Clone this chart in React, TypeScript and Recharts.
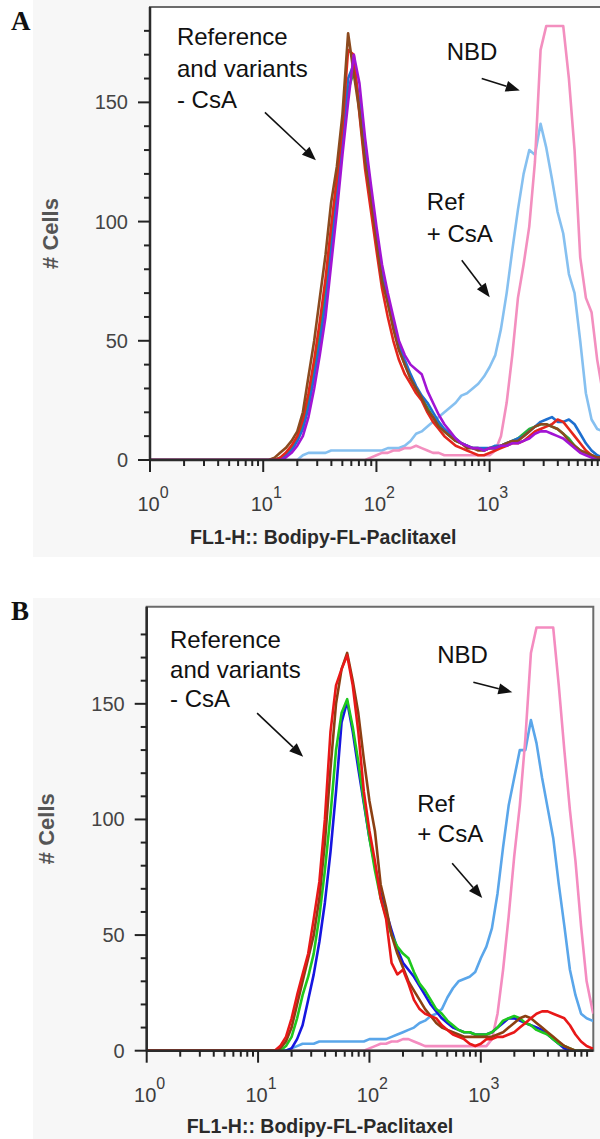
import React from 'react';
import {
  LineChart,
  Line,
  XAxis,
  YAxis,
  CartesianGrid,
  ReferenceArea,
  ReferenceLine,
  ReferenceDot,
  Label
} from 'recharts';

const FONT = '"Liberation Sans", Arial, sans-serif';
const X_MAX = 10233;

// FL1-H channels, 20 bins per decade
const channels = [
  1,
  10, 11.2, 12.6, 14.1, 15.8, 17.8, 20, 22.4, 25.1, 28.2, 31.6, 35.5, 39.8, 44.7, 50.1, 56.2, 63.1, 70.8, 79.4, 89.1,
  100, 112, 126, 141, 158, 178, 200, 224, 251, 282, 316, 355, 398, 447, 501, 562, 631, 708, 794, 891,
  1000, 1122, 1259, 1413, 1585, 1778, 1995, 2239, 2512, 2818, 3162, 3548, 3981, 4467, 5012, 5623, 6310, 7079, 7943, 8913,
  10000, 10233
];

const xTicks = [
  1, 2, 3, 4, 5, 6, 7, 8, 9,
  10, 20, 30, 40, 50, 60, 70, 80, 90,
  100, 200, 300, 400, 500, 600, 700, 800, 900,
  1000, 2000, 3000, 4000, 5000, 6000, 7000, 8000, 9000
];
const yTicks = [0, 10, 20, 30, 40, 50, 60, 70, 80, 90, 100, 110, 120, 130, 140, 150, 160, 170, 180];

// panel A counts
const aBrown = [0,
  0, 0, 1, 3, 5, 8, 12, 20, 35, 50, 68, 86, 108, 123, 145, 179, 162, 146, 125, 110,
  92, 75, 66, 55, 46, 40, 34, 30, 26, 21, 18, 14, 12, 10, 8, 7, 5, 5, 4, 4,
  5, 5, 6, 7, 8, 8, 10, 12, 14, 15, 15, 14, 13, 11, 8, 6, 4, 3, 2, 1,
  1, 1];
const aRed = [0,
  0, 0, 0, 1, 3, 6, 10, 17, 28, 42, 58, 76, 98, 118, 140, 172, 170, 145, 122, 105,
  88, 72, 60, 50, 42, 36, 32, 28, 25, 20, 16, 13, 10, 8, 6, 5, 4, 3, 2, 2,
  3, 4, 5, 6, 7, 7, 8, 10, 12, 13, 14, 15, 17, 16, 13, 10, 7, 4, 2, 1,
  1, 1];
const aGreen = [0,
  0, 0, 0, 1, 2, 5, 9, 15, 25, 38, 52, 70, 92, 115, 138, 155, 163, 150, 128, 110,
  93, 78, 66, 56, 47, 40, 35, 30, 26, 22, 18, 15, 12, 10, 8, 7, 6, 5, 5, 4,
  5, 5, 6, 7, 8, 9, 11, 13, 14, 15, 15, 14, 13, 11, 9, 6, 4, 3, 2, 1,
  1, 1];
const aBlue = [0,
  0, 0, 0, 0, 2, 4, 8, 13, 22, 35, 49, 66, 88, 110, 135, 160, 166, 150, 130, 112,
  95, 80, 68, 58, 49, 42, 36, 31, 27, 24, 20, 16, 13, 11, 9, 7, 6, 5, 5, 5,
  5, 6, 6, 7, 8, 9, 10, 12, 14, 16, 17, 18, 16, 16, 17, 15, 11, 7, 4, 2,
  1, 1];
const aPurple = [0,
  0, 0, 0, 0, 1, 3, 6, 10, 18, 30, 44, 60, 82, 104, 128, 150, 170, 158, 135, 116,
  98, 82, 70, 60, 50, 44, 40, 38, 36, 29, 24, 19, 15, 12, 9, 7, 6, 5, 5, 4,
  5, 5, 6, 6, 7, 7, 8, 9, 11, 12, 12, 11, 10, 9, 7, 5, 3, 2, 1, 0,
  0, 0];
const aRefCsA = [0,
  0, 0, 0, 0, 0, 0, 0, 2, 3, 3, 3, 3, 4, 4, 4, 4, 4, 4, 4, 4,
  4, 4, 5, 5, 5, 6, 8, 11, 12, 14, 16, 18, 20, 22, 24, 27, 28, 30, 32, 35,
  39, 44, 55, 70, 88, 105, 120, 130, 128, 141, 131, 118, 104, 95, 78, 70, 50, 28, 17, 13,
  12, 11];
const aNbd = [0,
  0, 0, 0, 0, 0, 0, 0, 0, 0, 0, 0, 0, 0, 0, 0, 0, 0, 0, 0, 1,
  2, 3, 3, 4, 4, 5, 5, 6, 5, 4, 3, 3, 2, 2, 2, 2, 2, 2, 2, 2,
  2, 4, 10, 24, 44, 68, 82, 98, 125, 172, 182, 182, 182, 182, 160, 130, 85, 68, 62, 42,
  28, 25];

// panel B counts
const bRed = [0,
  0, 0, 0, 0, 2, 6, 14, 24, 33, 42, 57, 73, 100, 138, 158, 165, 171, 158, 138, 112,
  95, 82, 66, 57, 38, 33, 35, 29, 22, 18, 16, 15, 14, 11, 9, 7, 6, 5, 3, 2,
  3, 5, 5, 6, 6, 7, 8, 10, 12, 14, 16, 17, 17, 16, 15, 14, 11, 7, 4, 2,
  1, 1];
const bBrown = [0,
  0, 0, 0, 0, 1, 4, 10, 20, 30, 40, 50, 66, 90, 122, 150, 165, 172, 160, 146, 126,
  108, 95, 72, 62, 50, 42, 36, 30, 26, 22, 18, 15, 12, 10, 9, 8, 7, 6, 6, 6,
  6, 6, 6, 7, 8, 10, 12, 14, 15, 14, 12, 10, 8, 6, 4, 2, 1, 0, 0, 0,
  0, 0];
const bGreen = [0,
  0, 0, 0, 0, 0, 2, 6, 14, 24, 32, 42, 58, 78, 102, 130, 146, 152, 140, 125, 108,
  92, 78, 66, 58, 50, 45, 42, 40, 34, 29, 26, 22, 18, 16, 13, 11, 9, 8, 8, 7,
  7, 7, 8, 10, 13, 14, 15, 14, 12, 11, 9, 8, 7, 5, 3, 2, 1, 0, 0, 0,
  0, 0];
const bBlue = [0,
  0, 0, 0, 0, 0, 0, 1, 5, 11, 22, 33, 47, 64, 86, 112, 142, 151, 138, 122, 107,
  92, 80, 68, 60, 52, 44, 38, 35, 32, 28, 24, 20, 17, 14, 12, 10, 9, 8, 8, 7,
  7, 7, 8, 10, 12, 14, 14, 13, 12, 11, 10, 9, 7, 5, 3, 1, 0, 0, 0, 0,
  0, 0];
const bRefCsA = [0,
  0, 0, 0, 0, 0, 0, 1, 2, 3, 3, 3, 4, 4, 4, 4, 4, 4, 4, 4, 4,
  5, 5, 5, 5, 6, 7, 8, 9, 10, 12, 13, 15, 16, 18, 23, 27, 30, 31, 32, 34,
  40, 45, 53, 68, 88, 106, 118, 130, 130, 143, 133, 118, 105, 92, 72, 54, 35, 24, 16, 14,
  13, 13];
const bNbd = [0,
  0, 0, 0, 0, 0, 0, 0, 0, 0, 0, 0, 0, 0, 0, 0, 0, 0, 0, 0, 0,
  1, 2, 3, 3, 4, 4, 5, 5, 4, 3, 2, 2, 2, 2, 2, 2, 2, 2, 2, 2,
  2, 2, 5, 16, 35, 58, 84, 106, 135, 172, 183, 183, 183, 183, 158, 130, 104, 82, 54, 30,
  18, 16];

type Series = { key: string; values: number[]; color: string };
type Note = { x: number; y: number; lines: string[]; gap: number };
type Arrow = { from: [number, number]; to: [number, number] };

// drawn bottom to top
const seriesA: Series[] = [
  { key: 'refCsA', values: aRefCsA, color: '#86c0f0' },
  { key: 'nbd', values: aNbd, color: '#f38fbf' },
  { key: 'green', values: aGreen, color: '#22b43a' },
  { key: 'blue', values: aBlue, color: '#1e6fcf' },
  { key: 'red', values: aRed, color: '#e4261c' },
  { key: 'brown', values: aBrown, color: '#8c4a1e' },
  { key: 'purple', values: aPurple, color: '#a214d4' }
];

const seriesB: Series[] = [
  { key: 'refCsA', values: bRefCsA, color: '#5aa6ea' },
  { key: 'nbd', values: bNbd, color: '#f48cc0' },
  { key: 'blue', values: bBlue, color: '#1616e0' },
  { key: 'green', values: bGreen, color: '#1ec81e' },
  { key: 'brown', values: bBrown, color: '#8c3f12' },
  { key: 'red', values: bRed, color: '#e81818' }
];

const notesA: Note[] = [
  { x: 1.73, y: 173.9, lines: ['Reference', 'and variants', '- CsA'], gap: 31.5 },
  { x: 418, y: 167.6, lines: ['NBD'], gap: 0 },
  { x: 278.6, y: 104.7, lines: ['Ref', '+ CsA'], gap: 32 }
];
const arrowsA: Arrow[] = [
  { from: [10.35, 145.8], to: [29.2, 125.7] },
  { from: [851, 160], to: [1845, 155] },
  { from: [567, 83.8], to: [1002, 68.3] }
];

const notesB: Note[] = [
  { x: 1.62, y: 174.1, lines: ['Reference', 'and variants', '- CsA'], gap: 29.5 },
  { x: 405.5, y: 167.6, lines: ['NBD'], gap: 0 },
  { x: 268, y: 103.3, lines: ['Ref', '+ CsA'], gap: 30 }
];
const arrowsB: Arrow[] = [
  { from: [9.8, 146], to: [25.4, 127.1] },
  { from: [857, 159.3], to: [1919, 155] },
  { from: [553, 81.1], to: [1030, 66] }
];

const buildRows = (series: Series[]) =>
  channels.map((x, i) => {
    const row: Record<string, number> = { x };
    series.forEach((s) => {
      row[s.key] = s.values[i];
    });
    return row;
  });

const XTick = (props: any) => {
  const { x, y, payload } = props;
  const lg = Math.log10(payload.value);
  const exp = Math.round(lg);
  const major = Math.abs(lg - exp) < 1e-9;
  return (
    <g>
      <line x1={x} y1={y} x2={x} y2={y + (major ? 12 : 6)} stroke="#222" strokeWidth={2} />
      {major && (
        <text x={x + 3} y={y + 51} textAnchor="middle" fontFamily={FONT} fontSize={20} fill="#3c3c3c">
          10
          <tspan dy={-13} fontSize={16}>
            {exp}
          </tspan>
        </text>
      )}
    </g>
  );
};

const YTick = (props: any) => {
  const { x, y, payload } = props;
  const major = payload.value % 50 === 0;
  return (
    <g>
      <line x1={x - (major ? 12 : 6)} y1={y} x2={x} y2={y} stroke="#222" strokeWidth={2} />
      {major && (
        <text x={x - 22} y={y + 7} textAnchor="end" fontFamily={FONT} fontSize={20} fill="#444">
          {payload.value}
        </text>
      )}
    </g>
  );
};

const ArrowShape = (props: any) => {
  const { x1, y1, x2, y2 } = props;
  const a = Math.atan2(y2 - y1, x2 - x1);
  const len = 14;
  const half = 5.5;
  const bx = x2 - len * Math.cos(a);
  const by = y2 - len * Math.sin(a);
  const pts = [
    `${x2},${y2}`,
    `${bx + half * Math.sin(a)},${by - half * Math.cos(a)}`,
    `${bx - half * Math.sin(a)},${by + half * Math.cos(a)}`
  ].join(' ');
  return (
    <g>
      <line x1={x1} y1={y1} x2={bx} y2={by} stroke="#111" strokeWidth={1.6} />
      <polygon points={pts} fill="#111" />
    </g>
  );
};

const noteShape = (note: Note) => (props: any) => (
  <text x={props.cx} y={props.cy} fontFamily={FONT} fontSize={24} fill="#111">
    {note.lines.map((t, i) => (
      <tspan key={t} x={props.cx} dy={i === 0 ? 0 : note.gap}>
        {t}
      </tspan>
    ))}
  </text>
);

interface HistogramProps {
  series: Series[];
  yMax: number;
  width: number;
  height: number;
  margin: { top: number; right: number; bottom: number; left: number };
  notes: Note[];
  arrows: Arrow[];
  xLabelDy: number;
}

const Histogram: React.FC<HistogramProps> = ({ series, yMax, width, height, margin, notes, arrows, xLabelDy }) => {
  const rows = buildRows(series);
  return (
    <LineChart width={width} height={height} data={rows} margin={margin}>
      <CartesianGrid horizontal={false} vertical={false} fill="#fff" />
      <ReferenceArea x1={1} x2={X_MAX} y1={0} y2={yMax} fill="none" stroke="#6b6b6b" strokeWidth={2} />
      <XAxis
        dataKey="x"
        type="number"
        scale="log"
        domain={[1, X_MAX]}
        ticks={xTicks}
        interval={0}
        tick={XTick}
        tickLine={false}
        tickSize={0}
        tickMargin={0}
        axisLine={{ stroke: '#2b2b2b', strokeWidth: 2.5 }}
        height={60}
        allowDataOverflow
      >
        <Label
          content={(p: any) => (
            <text
              x={p.viewBox.x + 40}
              y={p.viewBox.y + xLabelDy}
              fontFamily={FONT}
              fontSize={19.5}
              fontWeight="bold"
              fill="#2a2a2a"
            >
              FL1-H:: Bodipy-FL-Paclitaxel
            </text>
          )}
        />
      </XAxis>
      <YAxis
        type="number"
        domain={[0, yMax]}
        ticks={yTicks}
        interval={0}
        tick={YTick}
        tickLine={false}
        tickSize={0}
        tickMargin={0}
        axisLine={{ stroke: '#2b2b2b', strokeWidth: 2.5 }}
        width={60}
        allowDataOverflow
      >
        <Label
          content={(p: any) => {
            const cx = p.viewBox.x + p.viewBox.width - 100;
            const cy = p.viewBox.y + p.viewBox.height / 2;
            return (
              <text
                x={cx}
                y={cy}
                transform={`rotate(-90 ${cx} ${cy})`}
                textAnchor="middle"
                dominantBaseline="central"
                fontFamily={FONT}
                fontSize={22}
                fontWeight="bold"
                fill="#555"
              >
                # Cells
              </text>
            );
          }}
        />
      </YAxis>
      {series.map((s) => (
        <Line
          key={s.key}
          type="linear"
          dataKey={s.key}
          stroke={s.color}
          strokeWidth={2.6}
          strokeLinejoin="round"
          dot={false}
          activeDot={false}
          isAnimationActive={false}
        />
      ))}
      {arrows.map((a, i) => (
        <ReferenceLine
          key={`arrow-${i}`}
          segment={[
            { x: a.from[0], y: a.from[1] },
            { x: a.to[0], y: a.to[1] }
          ]}
          shape={ArrowShape}
        />
      ))}
      {notes.map((n, i) => (
        <ReferenceDot key={`note-${i}`} x={n.x} y={n.y} r={0} shape={noteShape(n)} />
      ))}
    </LineChart>
  );
};

export default function App() {
  return (
    <div
      style={{
        position: 'absolute',
        left: 0,
        top: 0,
        width: 600,
        height: 1139,
        overflow: 'hidden',
        background: '#fff'
      }}
    >
      <div style={{ position: 'absolute', left: 33, top: 0, width: 567, height: 557, background: '#f7f7f7' }} />
      <div style={{ position: 'absolute', left: 33, top: 598, width: 567, height: 541, background: '#f7f7f7' }} />
      <div style={{ position: 'absolute', left: 0, top: 0 }}>
        <Histogram
          series={seriesA}
          yMax={190}
          width={620}
          height={560}
          margin={{ top: 7, right: 16, bottom: 40, left: 90 }}
          notes={notesA}
          arrows={arrowsA}
          xLabelDy={84}
        />
      </div>
      <div style={{ position: 'absolute', left: 0, top: 598 }}>
        <Histogram
          series={seriesB}
          yMax={192}
          width={600}
          height={541}
          margin={{ top: 8.7, right: 6.7, bottom: 28.3, left: 86.7 }}
          notes={notesB}
          arrows={arrowsB}
          xLabelDy={82}
        />
      </div>
      <svg width={600} height={1139} style={{ position: 'absolute', left: 0, top: 0, pointerEvents: 'none' }}>
        <text x={11} y={30} fontFamily='"Liberation Serif", "Times New Roman", serif' fontWeight="bold" fontSize={27} fill="#111">
          A
        </text>
        <text x={11} y={620} fontFamily='"Liberation Serif", "Times New Roman", serif' fontWeight="bold" fontSize={27} fill="#111">
          B
        </text>
      </svg>
    </div>
  );
}
